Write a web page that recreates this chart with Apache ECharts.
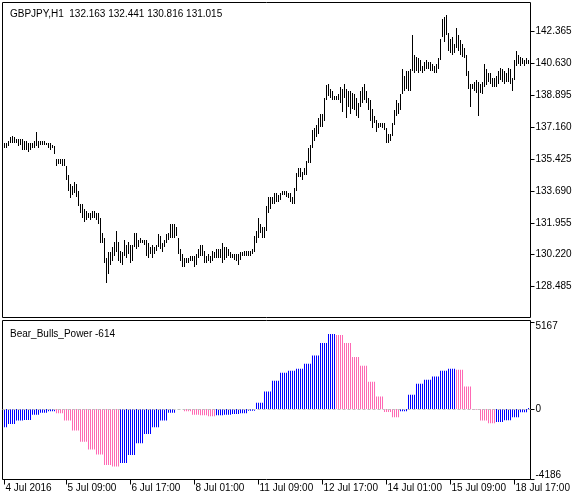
<!DOCTYPE html>
<html><head><meta charset="utf-8">
<script src="https://cdn.jsdelivr.net/npm/echarts@6/dist/echarts.min.js"></script>
<style>html,body{margin:0;padding:0;background:#fff}#c{width:582px;height:500px}</style>
</head><body><div id="c"></div>
<script>
const symbolTitle = 'GBPJPY,H1  132.163 132.441 130.816 131.015';
const indicatorTitle = 'Bear_Bulls_Power -614';

// H1 bars, 4 Jul 2016 02:00 onwards
const barHigh = [
136.32,136.27,136.38,136.60,136.70,136.60,136.54,136.54,136.54,136.49,
136.43,136.38,136.32,136.27,136.27,136.43,136.87,136.38,136.43,136.38,
136.38,136.32,136.32,136.27,136.21,136.11,135.45,135.45,135.45,135.45,
135.45,135.07,134.53,134.09,133.98,134.15,134.04,133.71,133.00,133.00,
132.73,132.62,132.51,132.46,132.57,132.57,132.46,132.46,132.19,131.42,
131.10,130.01,130.34,130.34,130.61,130.93,131.53,130.93,130.44,130.34,
130.99,130.72,130.93,130.72,130.77,131.42,131.42,131.04,131.10,131.04,
131.04,130.99,130.83,130.66,130.72,130.66,130.77,131.32,131.21,130.88,
131.04,131.32,131.37,131.91,131.91,131.86,131.75,131.15,130.55,130.23,
130.01,130.06,130.06,130.17,130.12,130.17,130.23,130.55,130.77,130.72,
130.44,130.12,130.23,130.17,130.44,130.39,130.50,130.55,130.55,130.88,
130.61,130.61,130.50,130.34,130.28,130.28,130.23,130.23,130.34,130.39,
130.44,130.44,130.44,130.44,130.55,131.26,131.53,132.19,131.91,131.75,
131.75,132.89,133.33,133.33,133.38,133.55,133.55,133.44,133.55,133.71,
133.71,133.71,133.55,133.55,133.33,133.87,134.64,134.91,134.91,134.74,
134.91,135.34,136.05,136.16,136.98,137.09,137.25,137.68,137.90,137.90,
138.77,139.43,139.53,139.26,139.15,138.88,138.88,138.99,139.32,139.21,
139.53,139.26,139.15,139.10,139.04,138.99,138.72,138.50,139.15,139.32,
139.53,139.15,138.77,138.61,138.17,137.79,137.57,137.41,137.36,137.36,
137.36,137.09,136.81,136.81,137.36,138.07,138.61,138.45,138.99,140.35,
139.97,140.24,140.24,140.35,142.15,141.06,140.95,140.90,140.79,140.51,
140.68,140.79,140.68,140.68,140.62,140.51,140.62,140.90,141.98,143.07,
143.13,143.24,142.26,141.98,142.04,141.71,142.58,142.15,141.88,141.71,
141.49,141.06,140.24,139.53,139.53,139.59,139.70,139.59,139.53,139.59,
140.62,140.35,140.13,140.08,139.86,139.81,139.97,140.24,140.40,140.35,
140.24,140.08,140.40,140.35,139.81,140.79,141.33,141.06,140.95,140.90,
140.79,140.90,140.84
];
const barLow = [
136.00,136.00,136.11,136.27,136.32,136.27,136.27,136.11,136.16,135.94,
135.89,135.94,135.78,135.94,136.00,136.05,136.11,136.05,136.16,136.16,
136.21,136.16,136.00,135.89,136.00,135.67,135.07,135.13,135.18,135.07,
135.07,134.26,133.71,133.28,133.44,133.60,133.33,132.89,132.51,132.24,
131.97,132.08,132.24,132.08,132.19,132.24,132.08,131.91,130.88,130.83,
129.74,128.70,129.19,129.63,129.90,130.17,130.34,129.90,129.79,129.63,
130.17,130.06,130.28,129.74,129.90,130.61,130.55,130.61,130.83,130.83,
130.77,130.17,130.06,130.28,130.06,130.28,130.44,130.61,130.50,130.34,
130.66,130.83,130.99,131.15,131.10,131.15,131.21,130.28,129.90,129.52,
129.52,129.79,129.74,129.90,129.90,129.57,129.63,130.01,130.17,130.12,
129.74,129.74,129.85,129.79,129.90,130.01,130.01,130.06,130.01,129.79,
129.95,130.06,130.12,130.06,130.01,129.95,129.90,129.63,129.95,130.12,
130.12,130.12,130.12,130.12,130.28,130.34,130.88,131.15,131.37,131.10,
131.15,131.53,132.46,132.73,133.00,133.00,133.06,133.06,133.17,133.44,
133.44,133.38,133.28,133.06,132.95,133.00,133.71,134.42,134.42,134.26,
134.53,134.53,135.23,135.23,136.05,136.43,136.60,136.81,137.14,137.14,
137.52,138.61,138.88,138.77,138.61,138.61,138.61,138.61,138.45,137.96,
138.72,137.63,138.23,137.90,138.17,138.07,137.79,137.68,138.23,138.50,
138.61,138.45,138.07,137.52,137.09,137.36,136.87,137.09,137.14,137.09,
136.98,136.32,136.32,136.43,136.70,137.30,137.79,137.90,138.07,138.99,
139.15,139.26,139.15,139.15,140.24,140.13,140.24,140.08,140.24,140.13,
140.24,140.35,140.35,140.24,140.24,140.13,140.13,140.35,140.79,142.04,
141.77,142.15,141.33,141.22,141.06,141.22,141.44,141.33,141.06,140.95,
140.90,139.97,139.26,138.23,139.26,139.15,139.04,137.79,139.04,138.99,
139.32,139.43,139.59,139.53,139.32,139.32,139.32,139.53,139.70,139.59,
139.53,139.59,139.59,139.53,139.15,139.70,140.51,140.62,140.51,140.62,
140.51,140.62,140.62
];

// Bear_Bulls_Power, one value per H4 block (shown on each H1 bar of the block)
const powerValues = [
-1084,-887,-690,-650,-335,-217,-138,
-256,-690,-1281,-1950,-2403,-2699,-3329,-3408,
-3211,-2738,-2029,-1478,-1084,-690,-217,0,
-138,-335,-374,-433,
-374,-335,-296,-256,-99,374,1044,1675,2147,2266,2384,2680,3172,3920,4452,
4393,3920,3093,2561,1615,749,-177,-493,
-138,847,1497,1734,1931,2266,2384,
2325,1340,-40,-690,-847,
-768,-670,-493,-197,59
];
const powerColors = [
'B','B','B','B','B','B','B',
'P','P','P','P','P','P','P','P',
'B','B','B','B','B','B','B','B',
'P','P','P','P',
'B','B','B','B','B','B','B','B','B','B','B','B','B','B','B',
'P','P','P','P','P','P','P','P',
'B','B','B','B','B','B','B',
'P','P','P','P','P',
'B','B','B','B','B'
];
const colorMap = {B:'#0000FF', P:'#FF69B4'};

const priceTicks = [128.485,130.220,131.955,133.690,135.425,137.160,138.895,140.630,142.365];
const powerTicks = [-4186,0,5167];
const timeTickIndex = [0,31,63,95,127,159,191,223,255];
const timeTickLabels = ['4 Jul 2016','5 Jul 09:00','6 Jul 17:00','8 Jul 01:00','11 Jul 09:00','12 Jul 17:00','14 Jul 01:00','15 Jul 09:00','18 Jul 17:00'];

const nBars = barHigh.length;
const priceData = barHigh.map((h, i) => [i, barLow[i], h]);
const powerData = [];
const powerBarColor = [];
for (let i = 0; i < nBars; i++) {
  const g = i < 2 ? 0 : Math.floor((i - 2) / 4) + 1;
  powerData.push([i, powerValues[g]]);
  powerBarColor.push(colorMap[powerColors[g]]);
}

const FONT = "'Liberation Sans', Arial, sans-serif";
const txt = {fontFamily: FONT, fontSize: 10, color: '#000'};

const chart = echarts.init(document.getElementById('c'), null, {renderer: 'canvas'});
chart.setOption({
  animation: false,
  backgroundColor: '#fff',
  title: [
    {text: symbolTitle, left: 5, top: 4, textStyle: Object.assign({fontWeight: 'normal'}, txt)},
    {text: indicatorTitle, left: 5, top: 324, textStyle: Object.assign({fontWeight: 'normal'}, txt)}
  ],
  grid: [
    {left: 2.5, top: 2.5, width: 528, height: 315, show: true, borderColor: '#000', borderWidth: 1, backgroundColor: '#fff'},
    {left: 2.5, top: 320.5, width: 528, height: 159, show: true, borderColor: '#000', borderWidth: 1, backgroundColor: '#fff'}
  ],
  xAxis: [
    {type: 'value', gridIndex: 0, min: -1, max: 263, show: false, axisLine: {onZero: false}},
    {type: 'value', gridIndex: 1, min: -1, max: 263, position: 'bottom',
     axisLine: {show: false, onZero: false}, splitLine: {show: false},
     axisTick: {show: true, length: 5, lineStyle: {color: '#000'}, customValues: timeTickIndex},
     axisLabel: Object.assign({customValues: timeTickIndex, formatter: v => timeTickLabels[timeTickIndex.indexOf(v)] || '',
       align: 'left', margin: 4, padding: [0, 0, 0, 1]}, txt)}
  ],
  yAxis: [
    {type: 'value', gridIndex: 0, position: 'right', min: 126.7977, max: 143.9435,
     axisLine: {show: false, onZero: false}, splitLine: {show: false},
     axisTick: {show: true, length: 4, lineStyle: {color: '#000'}, customValues: priceTicks},
     axisLabel: Object.assign({customValues: priceTicks, formatter: v => v.toFixed(3), margin: 5}, txt)},
    {type: 'value', gridIndex: 1, position: 'right', min: -4186, max: 5255,
     axisLine: {show: false, onZero: false}, splitLine: {show: false},
     axisTick: {show: true, length: 4, lineStyle: {color: '#000'}, customValues: powerTicks},
     axisLabel: Object.assign({customValues: powerTicks, margin: 5,
       formatter: v => v === 5167 ? '{t|5167}' : (v === -4186 ? '{b|-4186}' : '{m|' + v + '}'),
       rich: {t: Object.assign({padding: [8, 0, 0, 0]}, txt), b: Object.assign({padding: [0, 0, 8, 0]}, txt), m: Object.assign({}, txt)}
     }, txt)}
  ],
  series: [
    {type: 'custom', xAxisIndex: 0, yAxisIndex: 0, data: priceData, encode: {x: 0, y: [1, 2]},
     renderItem: function (params, api) {
       const top = api.coord([api.value(0), api.value(2)]);
       const bot = api.coord([api.value(0), api.value(1)]);
       const x = Math.floor(top[0]);
       const y0 = Math.round(top[1]);
       const y1 = Math.max(Math.round(bot[1]), y0 + 1);
       return {type: 'rect', shape: {x: x, y: y0, width: 1, height: y1 - y0}, style: {fill: '#000'}};
     }},
    {type: 'bar', xAxisIndex: 1, yAxisIndex: 1, data: powerData, barWidth: 1,
     itemStyle: {color: p => powerBarColor[p.dataIndex]},
     markLine: {silent: true, symbol: 'none', label: {show: false},
       lineStyle: {color: '#C0C0C0', type: [3, 2], width: 1}, data: [{yAxis: 0}]}}
  ]
});
</script></body></html>
